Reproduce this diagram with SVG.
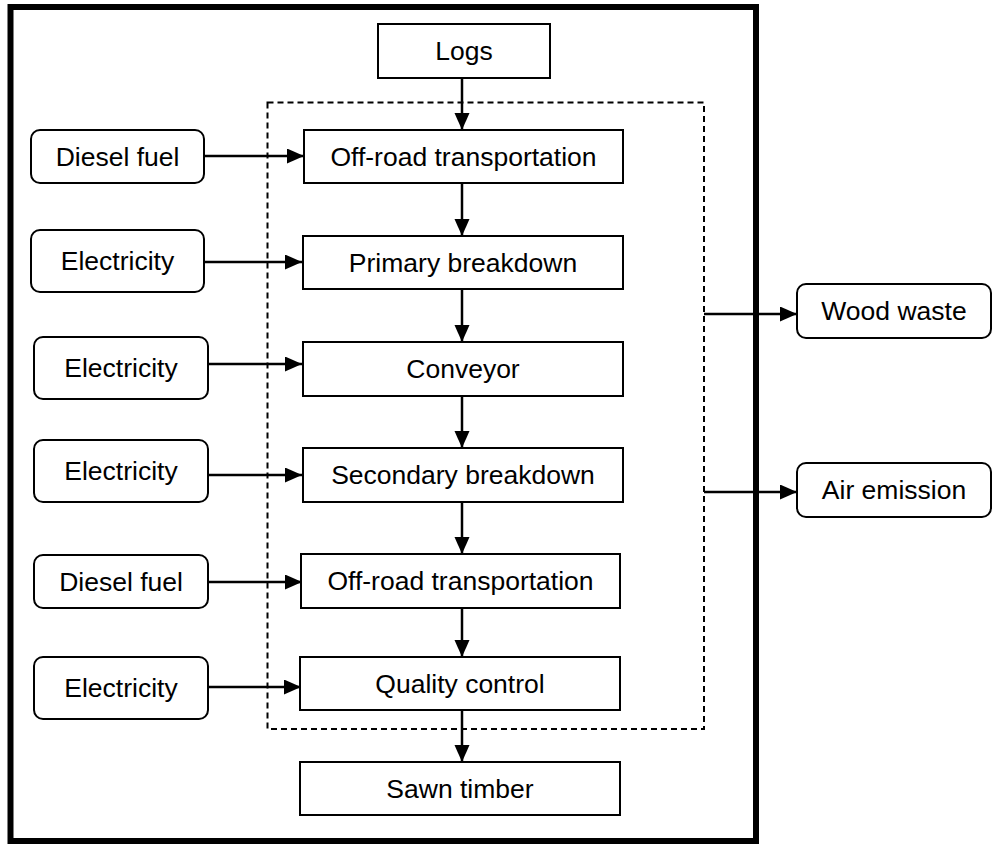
<svg xmlns="http://www.w3.org/2000/svg" width="992" height="845" viewBox="0 0 992 845">
<style>
.box{fill:#fff;stroke:#000;stroke-width:2}
.rnd{fill:#fff;stroke:#000;stroke-width:2}
.t{font-family:"Liberation Sans",Arial,sans-serif;font-size:26.5px;fill:#000;text-anchor:middle}
.c{stroke:#000;stroke-width:2.5;fill:none;marker-end:url(#ah)}
</style>
<defs>
<marker id="ah" markerUnits="userSpaceOnUse" markerWidth="18" markerHeight="16" refX="17" refY="7.5" orient="auto">
<path d="M0,0 L17,7.5 L0,15 z" fill="#000"/>
</marker>
</defs>
<rect x="0" y="0" width="992" height="845" fill="#fff"/>
<rect x="10.5" y="7" width="745.5" height="834" fill="none" stroke="#000" stroke-width="6"/>
<rect x="267.5" y="102.5" width="436.5" height="626.5" fill="none" stroke="#000" stroke-width="2" stroke-dasharray="6,4"/>
<g id="connectors">
<line class="c" x1="462" y1="78" x2="462" y2="130"/>
<line class="c" x1="462" y1="183" x2="462" y2="236"/>
<line class="c" x1="462" y1="289" x2="462" y2="342"/>
<line class="c" x1="462" y1="396" x2="462" y2="448"/>
<line class="c" x1="462" y1="502" x2="462" y2="554"/>
<line class="c" x1="462" y1="608" x2="462" y2="657"/>
<line class="c" x1="462" y1="710" x2="462" y2="762"/>
<line class="c" x1="204" y1="156" x2="304" y2="156"/>
<line class="c" x1="204" y1="262" x2="302" y2="262"/>
<line class="c" x1="208" y1="364" x2="302" y2="364"/>
<line class="c" x1="208" y1="475" x2="302" y2="475"/>
<line class="c" x1="208" y1="582" x2="302" y2="582"/>
<line class="c" x1="208" y1="687" x2="301" y2="687"/>
<line class="c" x1="704" y1="314" x2="797" y2="314"/>
<line class="c" x1="704" y1="492" x2="797" y2="492"/>
</g>
<g id="logs"><rect class="box" x="378" y="24" width="172" height="54"/><text class="t" x="464" y="60">Logs</text></g>
<g id="offroad1"><rect class="box" x="304" y="130" width="319" height="53"/><text class="t" x="463.5" y="166">Off-road transportation</text></g>
<g id="primary"><rect class="box" x="303" y="236" width="320" height="53"/><text class="t" x="463" y="272">Primary breakdown</text></g>
<g id="conveyor"><rect class="box" x="303" y="342" width="320" height="54"/><text class="t" x="463" y="378">Conveyor</text></g>
<g id="secondary"><rect class="box" x="303" y="448" width="320" height="54"/><text class="t" x="463" y="484">Secondary breakdown</text></g>
<g id="offroad2"><rect class="box" x="301" y="554" width="319" height="54"/><text class="t" x="460.5" y="590">Off-road transportation</text></g>
<g id="quality"><rect class="box" x="300" y="657" width="320" height="53"/><text class="t" x="460" y="693">Quality control</text></g>
<g id="sawn"><rect class="box" x="300" y="762" width="320" height="53"/><text class="t" x="460" y="798">Sawn timber</text></g>
<g id="diesel1"><rect class="rnd" x="31" y="130" width="173" height="53" rx="9"/><text class="t" x="117.5" y="166">Diesel fuel</text></g>
<g id="elec1"><rect class="rnd" x="31" y="230" width="173" height="62" rx="9"/><text class="t" x="117.5" y="270">Electricity</text></g>
<g id="elec2"><rect class="rnd" x="34" y="337" width="174" height="62" rx="9"/><text class="t" x="121" y="377">Electricity</text></g>
<g id="elec3"><rect class="rnd" x="34" y="440" width="174" height="62" rx="9"/><text class="t" x="121" y="480">Electricity</text></g>
<g id="diesel2"><rect class="rnd" x="34" y="555" width="174" height="53" rx="9"/><text class="t" x="121" y="591">Diesel fuel</text></g>
<g id="elec4"><rect class="rnd" x="34" y="657" width="174" height="62" rx="9"/><text class="t" x="121" y="697">Electricity</text></g>
<g id="woodwaste"><rect class="rnd" x="797" y="284" width="194" height="54" rx="9"/><text class="t" x="894" y="320">Wood waste</text></g>
<g id="airemission"><rect class="rnd" x="797" y="463" width="194" height="54" rx="9"/><text class="t" x="894" y="499">Air emission</text></g>
</svg>
